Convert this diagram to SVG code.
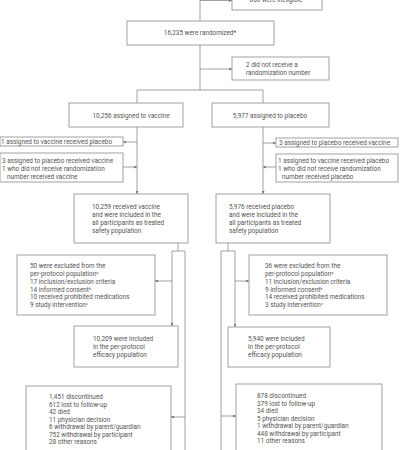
<svg xmlns="http://www.w3.org/2000/svg" width="400" height="450" viewBox="0 0 400 450">
<defs>
<style>
.box{fill:#fff;stroke:#8a8a8a;stroke-width:0.8}
.t{font-family:Roboto,"Liberation Sans",sans-serif;font-size:6.4px;fill:#555}
.c{text-anchor:middle}
.ln{fill:none;stroke:#8a8a8a;stroke-width:0.8}
.sup{font-size:4px}
</style>
<marker id="ah" viewBox="0 0 6 6" refX="6" refY="3" markerWidth="3" markerHeight="3" markerUnits="userSpaceOnUse" orient="auto">
<path d="M0,0 L6,3 L0,6 z" fill="#777"/>
</marker>
</defs>
<rect width="400" height="450" fill="#fff"/>
<g id="connectors">
<path class="ln" d="M200,-5 V90"/>
<path class="ln" d="M200,0.5 H232" marker-end="url(#ah)"/>
<path class="ln" d="M200,69 H232" marker-end="url(#ah)"/>
<path class="ln" d="M137,103 V90 H263 V103"/>
<path class="ln" d="M137,127 V194" marker-end="url(#ah)"/>
<path class="ln" d="M137,142 H123" marker-end="url(#ah)"/>
<path class="ln" d="M123,167 H137" marker-end="url(#ah)"/>
<path class="ln" d="M263,127 V194" marker-end="url(#ah)"/>
<path class="ln" d="M263,143 H276" marker-end="url(#ah)"/>
<path class="ln" d="M276,167 H263" marker-end="url(#ah)"/>
<path class="ln" d="M178,243 V251 M172,251 H185 M185,251 V450"/>
<path class="ln" d="M172,251 V326" marker-end="url(#ah)"/>
<path class="ln" d="M172,281 H155" marker-end="url(#ah)"/>
<path class="ln" d="M185,417 H171" marker-end="url(#ah)"/>
<path class="ln" d="M228,243 V251 M221,251 H235 M221,251 V450"/>
<path class="ln" d="M235,251 V327" marker-end="url(#ah)"/>
<path class="ln" d="M235,281 H249" marker-end="url(#ah)"/>
<path class="ln" d="M221,416 H236" marker-end="url(#ah)"/>
</g>
<g id="ineligible">
<rect class="box" x="232" y="-20" width="90" height="30"/>
<text class="t c" x="276" y="1.5">866 were ineligible</text>
</g>
<g id="randomized">
<rect class="box" x="127" y="21" width="147" height="24"/>
<text class="t c" x="200" y="35">16,235 were randomized*</text>
</g>
<g id="no-number">
<rect class="box" x="232" y="57" width="97" height="23"/>
<text class="t" x="246" y="67">2 did not receive a</text>
<text class="t" x="246" y="75">randomization number</text>
</g>
<g id="vaccine">
<rect class="box" x="69" y="103" width="114" height="24"/>
<text class="t c" x="131" y="117.5">10,256 assigned to vaccine</text>
</g>
<g id="placebo">
<rect class="box" x="212" y="103" width="117" height="24"/>
<text class="t c" x="270" y="117.5">5,977 assigned to placebo</text>
</g>
<g id="v-swap1">
<rect class="box" x="0" y="137" width="123" height="9"/>
<text class="t" x="1" y="144">1  assigned to vaccine received placebo</text>
</g>
<g id="v-swap2">
<rect class="box" x="0" y="153" width="123" height="29"/>
<text class="t" x="2" y="163">3 assigned to placebo received vaccine</text>
<text class="t" x="2" y="171">1 who did not receive randomization</text>
<text class="t" x="7" y="179">number received vaccine</text>
</g>
<g id="p-swap1">
<rect class="box" x="276" y="138" width="122" height="9"/>
<text class="t" x="279" y="145">3 assigned to placebo received vaccine</text>
</g>
<g id="p-swap2">
<rect class="box" x="276" y="154" width="122" height="28"/>
<text class="t" x="278" y="163">1 assigned to vaccine received placebo</text>
<text class="t" x="278" y="171">1 who did not receive randomization</text>
<text class="t" x="282" y="179">number received placebo</text>
</g>
<g id="v-safety">
<rect class="box" x="74" y="194" width="114" height="49"/>
<text class="t" x="92" y="209">10,259 received vaccine</text>
<text class="t" x="92" y="217">and were included in the</text>
<text class="t" x="92" y="225">all participants as treated</text>
<text class="t" x="92" y="233">safety population</text>
</g>
<g id="p-safety">
<rect class="box" x="216" y="194" width="114" height="49"/>
<text class="t" x="229" y="209">5,976 received placebo</text>
<text class="t" x="229" y="217">and were included in the</text>
<text class="t" x="229" y="225">all participants as treated</text>
<text class="t" x="229" y="233">safety population</text>
</g>
<g id="v-excluded">
<rect class="box" x="17" y="255" width="138" height="60"/>
<text class="t" x="30" y="268">50 were excluded from the</text>
<text class="t" x="30" y="276">per-protocol population<tspan class="sup" dy="-2">a</tspan></text>
<text class="t" x="30" y="284">17 inclusion/exclusion criteria</text>
<text class="t" x="30" y="291.5">14 informed consent<tspan class="sup" dy="-2">b</tspan></text>
<text class="t" x="30" y="299">10 received prohibited medications</text>
<text class="t" x="30" y="306.5">9 study intervention<tspan class="sup" dy="-2">c</tspan></text>
</g>
<g id="p-excluded">
<rect class="box" x="249" y="255" width="138" height="60"/>
<text class="t" x="265" y="268">36 were excluded from the</text>
<text class="t" x="265" y="276">per-protocol population<tspan class="sup" dy="-2">a</tspan></text>
<text class="t" x="265" y="284">11 inclusion/exclusion criteria</text>
<text class="t" x="265" y="291.5">9 informed consent<tspan class="sup" dy="-2">b</tspan></text>
<text class="t" x="265" y="299">14 received prohibited medications</text>
<text class="t" x="265" y="306.5">3 study intervention<tspan class="sup" dy="-2">c</tspan></text>
</g>
<g id="v-perprotocol">
<rect class="box" x="74" y="326" width="104" height="41"/>
<text class="t" x="93" y="341">10,209 were included</text>
<text class="t" x="93" y="349">in the per-protocol</text>
<text class="t" x="93" y="356.5">efficacy population</text>
</g>
<g id="p-perprotocol">
<rect class="box" x="228" y="327" width="102" height="40"/>
<text class="t" x="248" y="341">5,940 were included</text>
<text class="t" x="248" y="349">in the per-protocol</text>
<text class="t" x="248" y="356.5">efficacy population</text>
</g>
<g id="v-discontinued">
<rect class="box" x="26" y="386" width="145" height="80"/>
<text class="t" x="49" y="399">1,451 discontinued</text>
<text class="t" x="49" y="406.5">612 lost to follow-up</text>
<text class="t" x="49" y="414">42 died</text>
<text class="t" x="49" y="421.5">11 physician decision</text>
<text class="t" x="49" y="429">6 withdrawal by parent/guardian</text>
<text class="t" x="49" y="436.5">752 withdrawal by participant</text>
<text class="t" x="49" y="444">28 other reasons</text>
</g>
<g id="p-discontinued">
<rect class="box" x="236" y="384" width="146" height="80"/>
<text class="t" x="257" y="398">878 discontinued</text>
<text class="t" x="257" y="405.5">379 lost to follow-up</text>
<text class="t" x="257" y="413">34 died</text>
<text class="t" x="257" y="420.5">5 physician decision</text>
<text class="t" x="257" y="428">1 withdrawal by parent/guardian</text>
<text class="t" x="257" y="435.5">448 withdrawal by participant</text>
<text class="t" x="257" y="443">11 other reasons</text>
</g>
</svg>
